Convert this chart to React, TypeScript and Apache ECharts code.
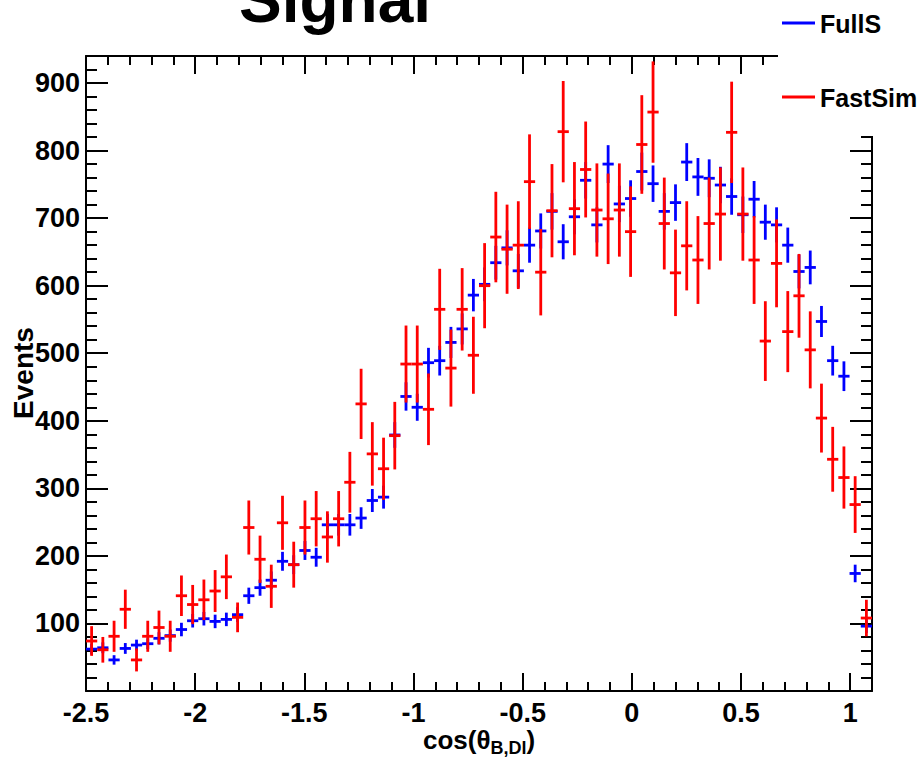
import React, { useEffect, useRef } from "react";
import * as echarts from "echarts";

// Histogram binning (x axis)
const X_MIN = -2.5;
const X_MAX = 1.1;
const N_BINS = 70;
const BIN_WIDTH = (X_MAX - X_MIN) / N_BINS;

const Y_MIN = 0;
const Y_MAX = 940;

const seriesNames = ["FullS", "FastSim"];
const xTickLabels = ["-2.5", "-2", "-1.5", "-1", "-0.5", "0", "0.5", "1"];
const yTickLabels = ["100", "200", "300", "400", "500", "600", "700", "800", "900"];

// FullSim (blue) bin contents and errors
const fullSimValues = [
  62, 64, 46, 63, 68, 70, 78, 82, 91, 104,
  107, 103, 106, 113, 141, 153, 164, 192, 187, 208,
  198, 246, 246, 246, 256, 282, 287, 379, 436, 420,
  486, 489, 516, 536, 586, 602, 634, 656, 622, 660,
  681, 710, 665, 702, 756, 690, 780, 721, 729, 769,
  751, 710, 723, 783, 761, 759, 749, 732, 705, 728,
  694, 690, 660, 621, 627, 547, 489, 466, 174, 96,
];
const fullSimErrors = [
  8, 8, 7, 8, 8, 8, 9, 9, 10, 10,
  10, 10, 10, 11, 12, 12, 13, 14, 14, 14,
  14, 16, 16, 16, 16, 17, 17, 19, 21, 20,
  22, 22, 23, 23, 24, 25, 25, 26, 25, 26,
  26, 27, 26, 26, 27, 26, 28, 27, 27, 28,
  27, 27, 27, 28, 28, 28, 27, 27, 27, 27,
  26, 26, 26, 25, 25, 23, 22, 22, 13, 10,
];

// FastSim (red) bin contents and errors
const fastSimValues = [
  74, 61, 81, 121, 46, 81, 94, 81, 141, 128,
  135, 148, 169, 109, 242, 195, 155, 249, 187, 242,
  255, 228, 255, 309, 425, 351, 329, 378, 484, 484,
  417, 565, 478, 565, 497, 600, 672, 654, 660, 754,
  620, 711, 828, 714, 772, 712, 699, 712, 680, 809,
  857, 692, 619, 659, 638, 692, 706, 827, 706, 638,
  518, 633, 532, 585, 505, 404, 343, 316, 276, 108,
];
const fastSimErrors = [
  22, 19, 23, 29, 17, 23, 25, 23, 30, 29,
  30, 31, 33, 22, 40, 35, 32, 40, 34, 40,
  41, 38, 41, 45, 52, 47, 46, 50, 57, 57,
  53, 60, 57, 61, 57, 63, 67, 66, 65, 70,
  64, 69, 75, 69, 71, 69, 67, 69, 67, 73,
  75, 68, 64, 66, 65, 68, 69, 75, 69, 65,
  59, 65, 60, 62, 57, 51, 48, 46, 42, 27,
];

const binCenters = Array.from({ length: N_BINS }, (_, i) => X_MIN + (i + 0.5) * BIN_WIDTH);

const FONT = '"Liberation Sans", Arial, Helvetica, sans-serif';
const BLUE = "#0000ff";
const RED = "#ff0000";

function makeSeries(name: string, values: number[], errors: number[], color: string) {
  return {
    type: "custom",
    name,
    xAxisIndex: 0,
    yAxisIndex: 0,
    data: values.map((v, i) => [binCenters[i], v, errors[i]]),
    encode: { x: 0, y: 1 },
    renderItem: (params: any, api: any) => {
      const x = api.value(0);
      const y = api.value(1);
      const e = api.value(2);
      const c = api.coord([x, y]);
      const top = api.coord([x, y + e]);
      const bot = api.coord([x, y - e]);
      const hw = api.size([BIN_WIDTH, 0])[0] / 2;
      return {
        type: "group",
        children: [
          {
            type: "line",
            shape: { x1: c[0] - hw, y1: c[1], x2: c[0] + hw, y2: c[1] },
            style: { stroke: color, lineWidth: 2.8 },
          },
          {
            type: "line",
            shape: { x1: c[0], y1: top[1], x2: c[0], y2: bot[1] },
            style: { stroke: color, lineWidth: 2.8 },
          },
        ],
      };
    },
  };
}

export default function App() {
  const ref = useRef<HTMLDivElement>(null);
  useEffect(() => {
    if (!ref.current) return;
    const chart = echarts.init(ref.current, null, { renderer: "svg" });
    const lineStyle = { color: "#000", width: 2 };
    const xCommon = { type: "value", min: X_MIN, max: X_MAX, splitLine: { show: false }, scale: false };
    const yCommon = { type: "value", min: Y_MIN, max: Y_MAX, splitLine: { show: false } };
    const xLabelFmt = (v: number) => {
      const s = String(Math.round(v * 10) / 10);
      return xTickLabels.includes(s) ? s : "";
    };
    const yLabelFmt = (v: number) => {
      const s = String(Math.round(v));
      return yTickLabels.includes(s) ? s : "";
    };
    chart.setOption({
      animation: false,
      backgroundColor: "#fff",
      grid: { left: 86, right: 51, top: 56, bottom: 71, containLabel: false },
      xAxis: [
        {
          ...xCommon,
          position: "bottom",
          interval: 0.5,
          axisLine: { show: true, onZero: false, lineStyle },
          axisTick: { show: true, inside: true, length: 18, lineStyle },
          axisLabel: {
            show: true,
            formatter: xLabelFmt,
            fontFamily: FONT,
            fontWeight: "bold",
            fontSize: 27,
            color: "#000",
            margin: 8,
            showMaxLabel: false,
          },
        },
        {
          ...xCommon,
          position: "bottom",
          interval: 0.1,
          axisLine: { show: false, onZero: false },
          axisTick: { show: true, inside: true, length: 9, lineStyle },
          axisLabel: { show: false },
        },
        {
          ...xCommon,
          position: "top",
          interval: 0.5,
          axisLine: { show: true, onZero: false, lineStyle },
          axisTick: { show: true, inside: true, length: 18, lineStyle },
          axisLabel: { show: false },
        },
        {
          ...xCommon,
          position: "top",
          interval: 0.1,
          axisLine: { show: false, onZero: false },
          axisTick: { show: true, inside: true, length: 9, lineStyle },
          axisLabel: { show: false },
        },
      ],
      yAxis: [
        {
          ...yCommon,
          position: "left",
          interval: 100,
          axisLine: { show: true, onZero: false, lineStyle },
          axisTick: { show: true, inside: true, length: 22, lineStyle },
          axisLabel: {
            show: true,
            formatter: yLabelFmt,
            fontFamily: FONT,
            fontWeight: "bold",
            fontSize: 27,
            color: "#000",
            margin: 6,
            showMaxLabel: false,
          },
        },
        {
          ...yCommon,
          position: "left",
          interval: 20,
          axisLine: { show: false, onZero: false },
          axisTick: { show: true, inside: true, length: 11, lineStyle },
          axisLabel: { show: false },
        },
        {
          ...yCommon,
          position: "right",
          interval: 100,
          axisLine: { show: true, onZero: false, lineStyle },
          axisTick: { show: true, inside: true, length: 22, lineStyle },
          axisLabel: { show: false },
        },
        {
          ...yCommon,
          position: "right",
          interval: 20,
          axisLine: { show: false, onZero: false },
          axisTick: { show: true, inside: true, length: 11, lineStyle },
          axisLabel: { show: false },
        },
      ],
      series: [
        makeSeries(seriesNames[0], fullSimValues, fullSimErrors, BLUE),
        makeSeries(seriesNames[1], fastSimValues, fastSimErrors, RED),
      ],
      graphic: [
        {
          type: "text",
          x: 335,
          y: 0,
          z: 40,
          style: {
            text: "Signal",
            fontFamily: FONT,
            fontWeight: "bold",
            fontSize: 64,
            fill: "#000",
            align: "center",
            verticalAlign: "middle",
          },
        },
        {
          type: "rect",
          z: 50,
          shape: { x: 778, y: 0, width: 145, height: 136 },
          style: { fill: "#fff" },
        },
        {
          type: "line",
          z: 51,
          shape: { x1: 782, y1: 23, x2: 815, y2: 23 },
          style: { stroke: BLUE, lineWidth: 3 },
        },
        {
          type: "text",
          z: 51,
          x: 820,
          y: 24,
          style: {
            text: seriesNames[0],
            fontFamily: FONT,
            fontWeight: "bold",
            fontSize: 25,
            fill: "#000",
            align: "left",
            verticalAlign: "middle",
          },
        },
        {
          type: "line",
          z: 51,
          shape: { x1: 782, y1: 97, x2: 815, y2: 97 },
          style: { stroke: RED, lineWidth: 3 },
        },
        {
          type: "text",
          z: 51,
          x: 820,
          y: 98,
          style: {
            text: seriesNames[1],
            fontFamily: FONT,
            fontWeight: "bold",
            fontSize: 25,
            fill: "#000",
            align: "left",
            verticalAlign: "middle",
          },
        },
        {
          type: "text",
          z: 40,
          x: 23,
          y: 373,
          rotation: Math.PI / 2,
          style: {
            text: "Events",
            fontFamily: FONT,
            fontWeight: "bold",
            fontSize: 28,
            fill: "#000",
            align: "center",
            verticalAlign: "middle",
          },
        },
        {
          type: "text",
          z: 40,
          x: 479,
          y: 740,
          style: {
            text: "{m|cos(θ}{s|B,Dl}{m|)}",
            fontFamily: FONT,
            fontWeight: "bold",
            fill: "#000",
            align: "center",
            verticalAlign: "middle",
            rich: {
              m: { fontFamily: FONT, fontWeight: "bold", fontSize: 26, lineHeight: 34, verticalAlign: "middle", fill: "#000" },
              s: { fontFamily: FONT, fontWeight: "bold", fontSize: 18, lineHeight: 18, verticalAlign: "bottom", fill: "#000" },
            },
          },
        },
      ],
    });
    return () => chart.dispose();
  }, []);
  return (
    <div
      ref={ref}
      style={{ position: "absolute", left: 0, top: 0, width: 923, height: 762, background: "#fff" }}
    />
  );
}
